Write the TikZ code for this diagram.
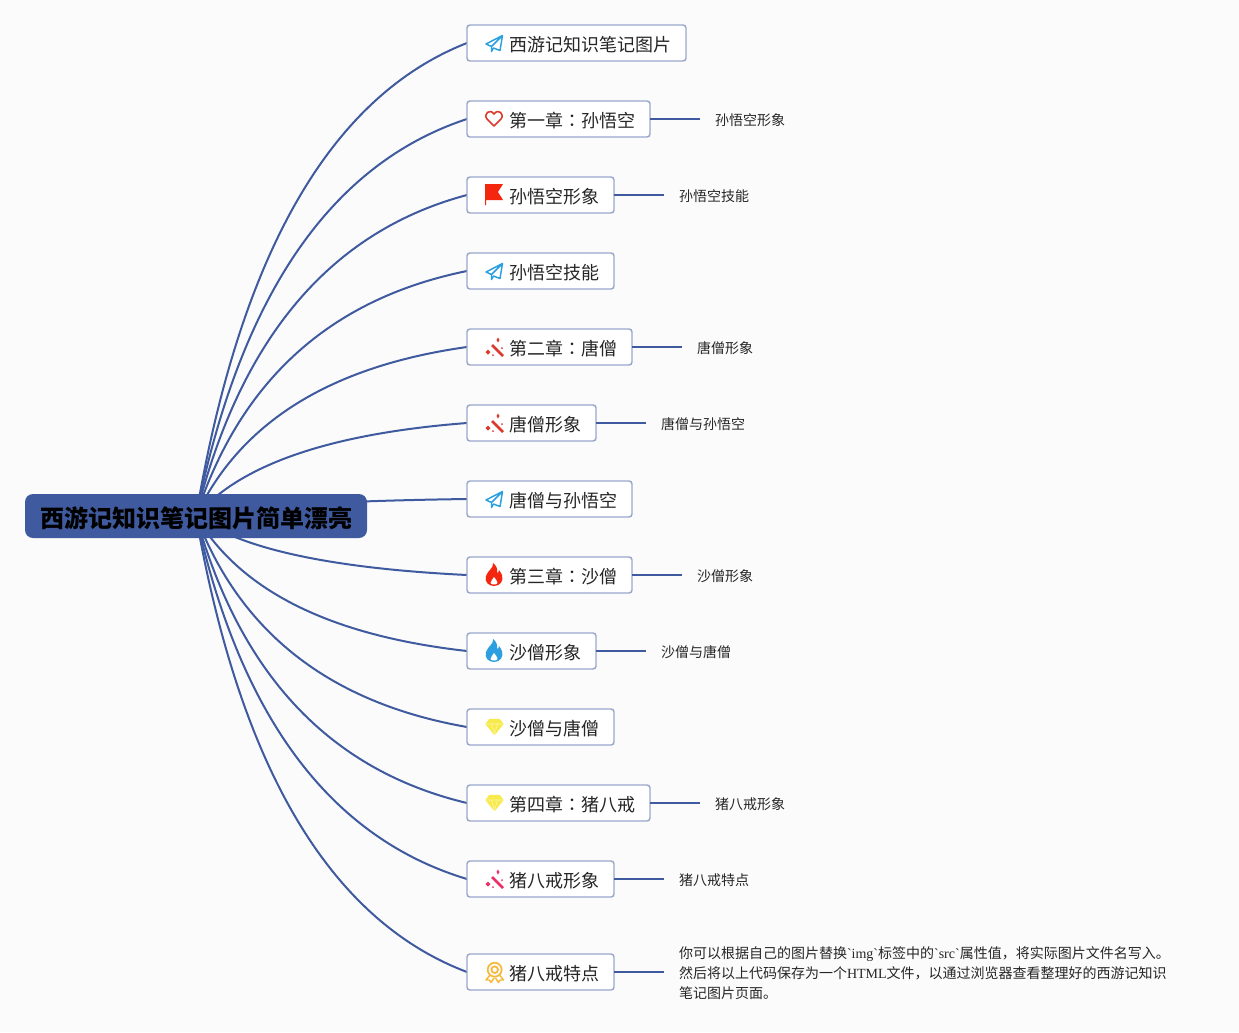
\documentclass[tikz,border=0pt]{standalone}
\usepackage{fontspec}
\setmainfont{Noto Sans CJK SC}
\newfontfamily\serifpart{Liberation Serif}
\newfontfamily\colonfont{Noto Sans CJK TC}
\usepackage{tikz}
\usetikzlibrary{positioning, calc, backgrounds}
\definecolor{paper}{HTML}{FBFBFC}
\definecolor{linec}{HTML}{3F5A9E}
\definecolor{boxc}{HTML}{9AA8CC}
\definecolor{iconblue}{HTML}{2C9FE0}
\definecolor{iconred}{HTML}{F5260F}
\definecolor{wandred}{HTML}{DB3A2C}
\definecolor{wandpink}{HTML}{EC2F66}
\definecolor{iconyellow}{HTML}{F7EA4A}
\definecolor{iconorange}{HTML}{F6B93B}
\newcommand{\cc}{{\colonfont ：}}

\tikzset{
	topic/.style={draw=boxc, fill=white, line width=1.1pt, rounded corners=2.25pt, anchor=west, outer sep=0pt,
		inner xsep=11.25pt, inner ysep=0pt, minimum height=27pt, text height=13pt, text depth=.5pt,
		font=\fontsize{13.5pt}{16pt}\selectfont, text=black!85, execute at begin node=\hspace*{20.25pt}},
	leaf/.style={inner xsep=11.25pt, inner ysep=0pt, outer sep=0pt, align=left, text=black!85,
		font=\fontsize{10.5pt}{15pt}\selectfont},
	oneline/.style={text height=9.5pt, text depth=.5pt},
	link/.style={draw=linec, line width=1.5pt},
	pics/plane/.style={code={
		\draw[iconblue, line width=1.1pt, line join=round]
			(8.5,-7.5) -- (-8,1) -- (-2.5,3.5) -- (8.5,-7.5) -- (6,7.5) -- (-.5,5) -- (-2.5,8.5) -- (-2.5,3.5);
	}},
	pics/heart/.style={code={
		\draw[wandred, line width=1.2pt, line join=round]
			(0,7) -- (-7,0) .. controls (-11,-5) and (-4,-11) .. (0,-5)
			.. controls (4,-11) and (11,-5) .. (7,0) -- cycle;
	}},
	pics/flag/.style={code={
		\fill[iconred] (-9,-11) -- (9,-11) -- (4,-3) -- (9,5) -- (-8,5) -- (-8,10) -- (-9,10) -- cycle;
	}},
	pics/wand/.style={code={
		\draw[#1, line width=1.9pt] (-2,-2) -- (9,9);
		\fill[#1] (4,-9.5) -- (5.5,-7) -- (4,-4.5) -- (2.5,-7) -- cycle;
		\fill[#1] (-6,2.5) -- (-3.5,5) -- (-6,7.5) -- (-8.5,5) -- cycle;
		\fill[#1] (8,1) circle (1);
		\fill[#1] (-1,8) circle (1);
	}},
	pics/fire/.style={code={
		\fill[#1] (-1,-12) .. controls (0,-7) and (-6,-5) .. (-8,1) .. controls (-10,7) and (-5,11) .. (0,11)
			.. controls (6,11) and (10,6) .. (8,0) .. controls (7,-2) and (6,-4) .. (5,-5)
			.. controls (5,-3) and (4,-2) .. (3,-2) .. controls (4,-6) and (2,-10) .. (-1,-12) -- cycle;
		\fill[white] (0,2) .. controls (1,5) and (4,5) .. (3.5,8) .. controls (3,10) and (-3,10) .. (-3.5,8)
			.. controls (-4,6) and (-1,5) .. (0,2) -- cycle;
	}},
	pics/gem/.style={code={
		\draw[iconyellow, fill=iconyellow, line width=.8pt, line join=round]
			(-4.5,-7.5) -- (5.5,-7.5) -- (9,-3) -- (.5,7.5) -- (-8,-3) -- cycle;
		\draw[white!55!iconyellow, line width=.45pt] (-8,-3) -- (9,-3) (-2.5,-3) -- (.5,7.5) -- (3.5,-3);
	}},
	pics/medal/.style={code={
		\draw[iconorange, line width=1.1pt, line join=round]
			(-4,3) -- (-8,8) -- (-4.5,8) -- (-3,10.5) -- (0,6) (1.5,6) -- (4.5,10.5) -- (6,8) -- (9.5,8) -- (5.5,3);
		\draw[iconorange, fill=paper, line width=1.3pt] (.7,-2.3) circle (7);
		\draw[iconorange, line width=1.3pt] (.7,-2.3) circle (3.3);
	}},
}

\begin{document}
\begin{tikzpicture}[x=.75pt, y=-.75pt]
	\node[fill=linec, rounded corners=6pt, minimum width=256.5pt, minimum height=33pt, inner sep=0pt, outer sep=0pt,
		text height=18pt, text depth=.4pt,
		font=\fontsize{18pt}{20pt}\selectfont\bfseries] (root) at (196,516) {西游记知识笔记图片简单漂亮};

	\node[topic] (t1) at (467,43) {西游记知识笔记图片};
	\node[topic] (t2) at (467,119) {第一章\cc 孙悟空};
	\node[topic] (t3) at (467,195) {孙悟空形象};
	\node[topic] (t4) at (467,271) {孙悟空技能};
	\node[topic] (t5) at (467,347) {第二章\cc 唐僧};
	\node[topic] (t6) at (467,423) {唐僧形象};
	\node[topic] (t7) at (467,499) {唐僧与孙悟空};
	\node[topic] (t8) at (467,575) {第三章\cc 沙僧};
	\node[topic] (t9) at (467,651) {沙僧形象};
	\node[topic] (t10) at (467,727) {沙僧与唐僧};
	\node[topic] (t11) at (467,803) {第四章\cc 猪八戒};
	\node[topic] (t12) at (467,879) {猪八戒形象};
	\node[topic] (t13) at (467,972) {猪八戒特点};

	\node[leaf, oneline, right=37.5pt of t2] (l2) {孙悟空形象};
	\node[leaf, oneline, right=37.5pt of t3] (l3) {孙悟空技能};
	\node[leaf, oneline, right=37.5pt of t5] (l5) {唐僧形象};
	\node[leaf, oneline, right=37.5pt of t6] (l6) {唐僧与孙悟空};
	\node[leaf, oneline, right=37.5pt of t8] (l8) {沙僧形象};
	\node[leaf, oneline, right=37.5pt of t9] (l9) {沙僧与唐僧};
	\node[leaf, oneline, right=37.5pt of t11] (l11) {猪八戒形象};
	\node[leaf, oneline, right=37.5pt of t12] (l12) {猪八戒特点};
	\node[leaf, right=37.5pt of t13, inner ysep=0pt, yshift=-.75pt] (l13) {你可以根据自己的图片替换{\serifpart\char96 img\char96}标签中的{\serifpart\char96 src\char96}属性值，将实际图片文件名写入。\\
		然后将以上代码保存为一个{\serifpart HTML}文件，以通过浏览器查看整理好的西游记知识\\
		笔记图片页面。};

	\begin{pgfonlayer}{background}
		\fill[paper] (0,0) rectangle (1239,1032);
		\foreach \n in {1,...,13} {
			\coordinate (h) at ($(root.center)!.83!(t\n.west)$);
			\coordinate (q) at (262,0 |- h);
			\draw[link] (root.center) .. controls ($(root.center)!.667!(q)$) and ($(t\n.west)!.667!(q)$) .. (t\n.west);
		}
	\end{pgfonlayer}
	\foreach \n in {2,3,5,6,8,9,11,12} {
		\draw[link] (t\n.east) -- (l\n.west);
	}
	\draw[link] (t13.east) -- (l13.west |- t13.east);

	\pic at (494,43) {plane};
	\pic at (494,119) {heart};
	\pic at (494,195) {flag};
	\pic at (494,271) {plane};
	\pic at (494,347) {wand=wandred};
	\pic at (494,423) {wand=wandred};
	\pic at (494,499) {plane};
	\pic at (494,575) {fire=iconred};
	\pic at (494,651) {fire=iconblue};
	\pic at (494,727) {gem};
	\pic at (494,803) {gem};
	\pic at (494,879) {wand=wandpink};
	\pic at (494,972) {medal};
\end{tikzpicture}
\end{document}
